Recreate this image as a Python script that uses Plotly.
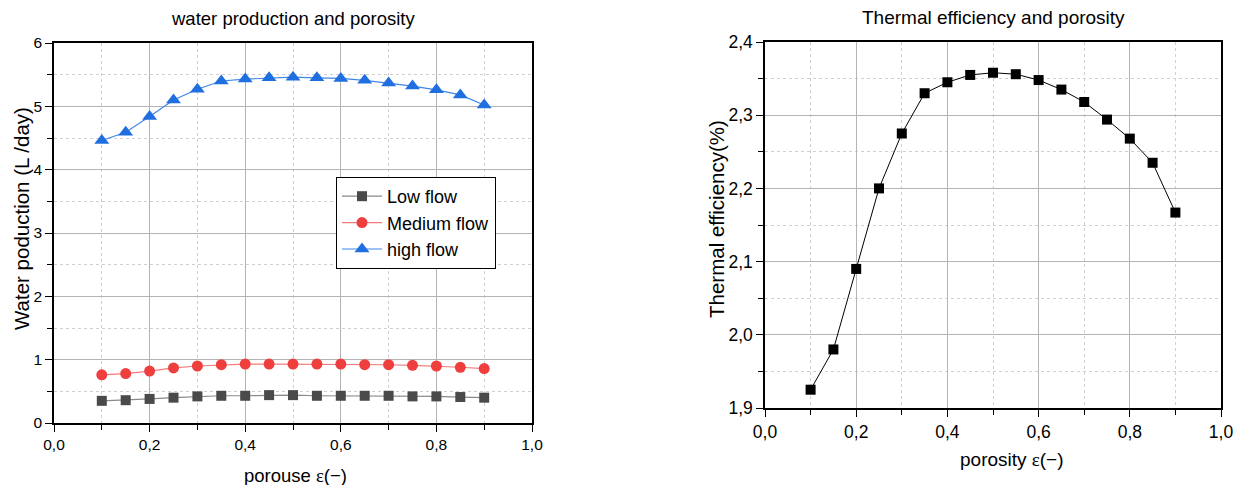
import plotly.graph_objects as go

porosity = [0.1, 0.15, 0.2, 0.25, 0.3, 0.35, 0.4, 0.45, 0.5, 0.55, 0.6, 0.65, 0.7, 0.75, 0.8, 0.85, 0.9]
low_flow = [0.35, 0.36, 0.38, 0.40, 0.42, 0.43, 0.43, 0.44, 0.44, 0.43, 0.43, 0.43, 0.43, 0.42, 0.42, 0.41, 0.40]
medium_flow = [0.76, 0.78, 0.82, 0.87, 0.90, 0.92, 0.93, 0.93, 0.93, 0.93, 0.93, 0.92, 0.92, 0.91, 0.90, 0.88, 0.86]
high_flow = [4.46, 4.59, 4.84, 5.10, 5.27, 5.40, 5.43, 5.45, 5.46, 5.45, 5.44, 5.41, 5.37, 5.32, 5.26, 5.18, 5.02]
thermal_eff = [1.925, 1.980, 2.090, 2.200, 2.275, 2.330, 2.345, 2.355, 2.358, 2.356, 2.348, 2.335, 2.318, 2.294, 2.268, 2.235, 2.167]

FONT = "Liberation Sans, Arial, sans-serif"

fig = go.Figure()

fig.add_trace(go.Scatter(x=porosity, y=low_flow, name="Low flow", mode="lines+markers",
                         line=dict(color="#8a8a8a", width=1.2),
                         marker=dict(symbol="square", size=10, color="#4a4a4a"),
                         xaxis="x", yaxis="y"))
fig.add_trace(go.Scatter(x=porosity, y=medium_flow, name="Medium flow", mode="lines+markers",
                         line=dict(color="#f47a7a", width=1.2),
                         marker=dict(symbol="circle", size=11, color="#ef3e3e"),
                         xaxis="x", yaxis="y"))
fig.add_trace(go.Scatter(x=porosity, y=high_flow, name="high flow", mode="lines+markers",
                         line=dict(color="#3f86e8", width=1.2),
                         marker=dict(symbol="triangle-up", size=13, color="#1f6fe0"),
                         xaxis="x", yaxis="y"))
fig.add_trace(go.Scatter(x=porosity, y=thermal_eff, name="Thermal", mode="lines+markers",
                         line=dict(color="#000000", width=1),
                         marker=dict(symbol="square", size=10, color="#000000"),
                         xaxis="x2", yaxis="y2", showlegend=False))

dom_x1 = [54 / 1233, 532 / 1233]
dom_y1 = [1 - 423 / 485, 1 - 43 / 485]
dom_x2 = [765 / 1233, 1221 / 1233]
dom_y2 = [1 - 408 / 485, 1 - 42 / 485]

grid_major = "#b4b4b4"
grid_minor = "#d0d0d0"


def xax(domain, anchor, fsize):
    return dict(domain=domain, anchor=anchor, range=[0, 1], dtick=0.2, tick0=0,
                tickformat=".1f", showline=True, linecolor="black", linewidth=1.5,
                mirror=True, ticks="outside", ticklen=7, tickcolor="black",
                showgrid=True, gridcolor=grid_major, gridwidth=1,
                minor=dict(dtick=0.1, showgrid=True, gridcolor=grid_minor, griddash="dot",
                           ticks="outside", ticklen=5, tickcolor="black"),
                zeroline=False, automargin=False, ticklabeloverflow="allow",
                tickfont=dict(size=fsize, color="black", family=FONT))


def yax(domain, anchor, rng, dtick, minor, fmt, fsize):
    return dict(domain=domain, anchor=anchor, range=rng, dtick=dtick, tick0=rng[0],
                tickformat=fmt, showline=True, linecolor="black", linewidth=1.5,
                mirror=True, ticks="outside", ticklen=7, tickcolor="black",
                showgrid=True, gridcolor=grid_major, gridwidth=1,
                minor=dict(dtick=minor, showgrid=True, gridcolor=grid_minor, griddash="dot",
                           ticks="outside", ticklen=5, tickcolor="black"),
                zeroline=False, automargin=False, ticklabeloverflow="allow",
                tickfont=dict(size=fsize, color="black", family=FONT))


def x_top(domain, anchor, over):
    return dict(domain=domain, anchor=anchor, overlaying=over, side="top", range=[0, 1],
                dtick=0.2, tick0=0, ticks="inside", ticklen=6, tickcolor="black",
                minor=dict(dtick=0.1, ticks="inside", ticklen=5, tickcolor="black"),
                showticklabels=False, showgrid=False, zeroline=False, showline=False,
                automargin=False)


def y_right(domain, anchor, over, rng, dtick, minor):
    return dict(domain=domain, anchor=anchor, overlaying=over, side="right", range=rng,
                dtick=dtick, tick0=rng[0], ticks="inside", ticklen=6, tickcolor="black",
                minor=dict(dtick=minor, ticks="inside", ticklen=5, tickcolor="black"),
                showticklabels=False, showgrid=False, zeroline=False, showline=False,
                automargin=False)


fig.update_layout(
    width=1233, height=485,
    margin=dict(l=0, r=0, t=0, b=0),
    paper_bgcolor="white", plot_bgcolor="white",
    separators=", ",
    font=dict(family=FONT, color="black"),
    xaxis=xax(dom_x1, "y", 15.5),
    yaxis=yax(dom_y1, "x", [0, 6], 1, 0.5, "d", 15.5),
    xaxis2=xax(dom_x2, "y2", 17.5),
    yaxis2=yax(dom_y2, "x2", [1.9, 2.4], 0.1, 0.05, ".1f", 17.5),
    xaxis3=x_top(dom_x1, "y", "x"),
    yaxis3=y_right(dom_y1, "x", "y", [0, 6], 1, 0.5),
    xaxis4=x_top(dom_x2, "y2", "x2"),
    yaxis4=y_right(dom_y2, "x2", "y2", [1.9, 2.4], 0.1, 0.05),
    legend=dict(x=336 / 1233, y=1 - 177 / 485, xanchor="left", yanchor="top",
                bordercolor="black", borderwidth=1, bgcolor="white",
                font=dict(size=18, color="black", family=FONT),
                tracegroupgap=0, itemwidth=40),
    showlegend=True,
)

annotations = [
    dict(text="water production and porosity", x=(dom_x1[0] + dom_x1[1]) / 2, y=1 - 19 / 485,
         xanchor="center", yanchor="middle",
         xref="paper", yref="paper", showarrow=False, font=dict(size=18.5, family=FONT)),
    dict(text="Thermal efficiency and porosity", x=(dom_x2[0] + dom_x2[1]) / 2, y=1 - 18 / 485,
         xanchor="center", yanchor="middle",
         xref="paper", yref="paper", showarrow=False, font=dict(size=19, family=FONT)),
    dict(text="porouse <span style='font-family:Liberation Serif'>ε</span>(−)",
         x=295 / 1233, y=1 - 475 / 485, xanchor="center", yanchor="middle",
         xref="paper", yref="paper", showarrow=False, font=dict(size=18.5, family=FONT)),
    dict(text="porosity <span style='font-family:Liberation Serif'>ε</span>(−)",
         x=1012 / 1233, y=1 - 459 / 485, xanchor="center", yanchor="middle",
         xref="paper", yref="paper", showarrow=False, font=dict(size=19, family=FONT)),
    dict(text="Water poduction (L /day)", x=22 / 1233, y=1 - 219 / 485,
         xanchor="center", yanchor="middle",
         xref="paper", yref="paper", showarrow=False, textangle=-90, font=dict(size=20.5, family=FONT)),
    dict(text="Thermal efficiency(%)", x=717 / 1233, y=1 - 219 / 485,
         xanchor="center", yanchor="middle",
         xref="paper", yref="paper", showarrow=False, textangle=-90, font=dict(size=20.5, family=FONT)),
]
fig.update_layout(annotations=annotations)

fig.write_html("out.html", config={"displayModeBar": False},
               post_script="document.body.style.margin='0';document.body.style.overflow='hidden';")
